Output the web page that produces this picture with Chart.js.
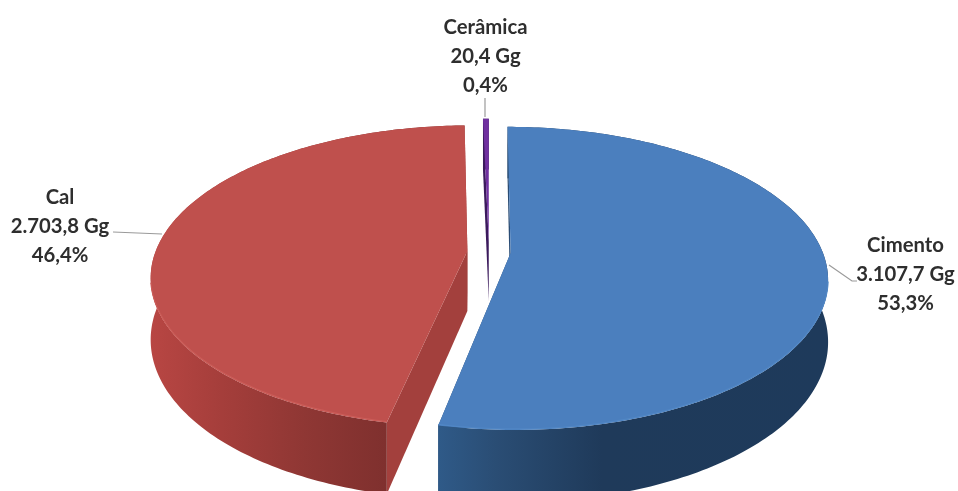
<!DOCTYPE html>
<html lang="pt">
<head>
<meta charset="utf-8">
<title>Cimento, Cal, Cerâmica</title>
<script src="https://cdn.jsdelivr.net/npm/chart.js@4"></script>
<style>
html,body{margin:0;padding:0;background:#fff;overflow:hidden}
#wrap{position:relative;width:958px;height:491px}
canvas{display:block;filter:blur(0.45px)}
</style>
</head>
<body>
<div id="wrap"><canvas id="c" width="958" height="491"></canvas></div>
<script>
const categories = ['Cimento', 'Cal', 'Cerâmica'];
const values = [3107.7, 2703.8, 20.4];
const valueLabels = ['3.107,7 Gg', '2.703,8 Gg', '20,4 Gg'];
const percentLabels = ['53,3%', '46,4%', '0,4%'];
const topColors = ['#4b7fbe', '#bf504d', '#7030a0'];
const rimColors = ['#5187c5', '#cb5c58', '#8040b0'];
const wallColors = ['#2a4c74', '#a3403d', '#3b1a5c'];
const sideStops = [
  [[0, '#2f5a88'], [0.15, '#2a4d74'], [0.42, '#1f3a5a'], [1, '#1e3a5b']],
  [[0, '#b84643'], [0.3, '#a53e3b'], [0.65, '#8f3734'], [1, '#7f302e']],
  [[0, '#3b1a5c'], [1, '#3b1a5c']]
];

// Projection of the pie plane onto the screen (perspective view of the 3D disc)
const VIEW = {vx: 489, vy: 252, radius: 312, tilt: 0.471, persp: 0.167, depth: 60};
const LABELS = [
  {x: 905.5, y: 245, lead: [[829, 265], [852, 281], [857, 281]]},
  {x: 60, y: 197, lead: [[113, 232], [162, 234]]},
  {x: 485.5, y: 27, lead: [[485, 98], [485, 117]]}
];

function project(wx, wy) {
  const w = 1 / (1 - VIEW.persp * wy / VIEW.radius);
  return {x: VIEW.vx + wx * w, y: VIEW.vy + VIEW.tilt * wy * w, d: VIEW.depth * w};
}

function sliceGeometry(el) {
  const S = VIEW.radius / el.outerRadius;
  const mid = (el.startAngle + el.endAngle) / 2;
  const off = (el.options.offset / 4) * S;
  const ox = Math.cos(mid) * off, oy = Math.sin(mid) * off;
  const pts = [];
  const n = Math.max(4, Math.ceil((el.endAngle - el.startAngle) * 60));
  for (let i = 0; i <= n; i++) {
    const a = el.startAngle + (el.endAngle - el.startAngle) * i / n;
    pts.push(project(ox + Math.cos(a) * VIEW.radius, oy + Math.sin(a) * VIEW.radius));
  }
  return {apex: project(ox, oy), pts};
}

function poly(ctx, list, fill) {
  ctx.beginPath();
  list.forEach((p, i) => i ? ctx.lineTo(p.x, p.y) : ctx.moveTo(p.x, p.y));
  ctx.closePath();
  ctx.fillStyle = fill;
  ctx.fill();
}

const down = p => ({x: p.x, y: p.y + p.d});

const disc3d = {
  id: 'disc3d',
  beforeDatasetDraw() { return false; },
  afterDatasetsDraw(chart) {
    const ctx = chart.ctx;
    const arcs = chart.getDatasetMeta(0).data;
    ctx.save();
    [2, 1, 0].forEach(i => {
      const g = sliceGeometry(arcs[i]);
      const first = g.pts[0], last = g.pts[g.pts.length - 1];
      // radial walls
      poly(ctx, [g.apex, first, down(first), down(g.apex)], wallColors[i]);
      poly(ctx, [g.apex, last, down(last), down(g.apex)], wallColors[i]);
      // side band
      const xs = g.pts.map(p => p.y > VIEW.vy - 10 ? p.x : null).filter(v => v !== null);
      const x0 = xs.length ? Math.min(...xs) : first.x, x1 = xs.length ? Math.max(...xs) : last.x;
      const grad = ctx.createLinearGradient(x0, 0, x1 === x0 ? x0 + 1 : x1, 0);
      sideStops[i].forEach(s => grad.addColorStop(s[0], s[1]));
      poly(ctx, g.pts.concat(g.pts.slice().reverse().map(down)), grad);
      // top face
      poly(ctx, [g.apex].concat(g.pts), topColors[i]);
      // soft lit rim on the front edge
      const front = g.pts.filter(p => p.y > VIEW.vy + 30);
      if (i < 2 && front.length > 1) {
        ctx.beginPath();
        front.forEach((p, k) => k ? ctx.lineTo(p.x, p.y - 1) : ctx.moveTo(p.x, p.y - 1));
        ctx.lineWidth = 1.2;
        ctx.strokeStyle = rimColors[i];
        ctx.stroke();
      }
    });
    // leader lines
    ctx.strokeStyle = '#9a9a9a';
    ctx.lineWidth = 1.2;
    LABELS.forEach(l => {
      ctx.beginPath();
      l.lead.forEach((p, k) => k ? ctx.lineTo(p[0], p[1]) : ctx.moveTo(p[0], p[1]));
      ctx.stroke();
    });
    // data labels
    ctx.fillStyle = '#2e2e2e';
    ctx.font = 'bold 20.3px Lato, sans-serif';
    ctx.textAlign = 'center';
    ctx.textBaseline = 'middle';
    LABELS.forEach((l, i) => {
      ctx.fillText(categories[i], l.x, l.y);
      ctx.fillText(valueLabels[i], l.x, l.y + 29.5);
      ctx.fillText(percentLabels[i], l.x, l.y + 58);
    });
    ctx.restore();
  }
};

new Chart(document.getElementById('c'), {
  type: 'pie',
  data: {
    labels: categories,
    datasets: [{data: values, backgroundColor: topColors, borderWidth: 0, offset: 60}]
  },
  options: {
    responsive: false,
    animation: false,
    rotation: 0,
    plugins: {legend: {display: false}, tooltip: {enabled: false}}
  },
  plugins: [disc3d]
});
</script>
</body>
</html>
